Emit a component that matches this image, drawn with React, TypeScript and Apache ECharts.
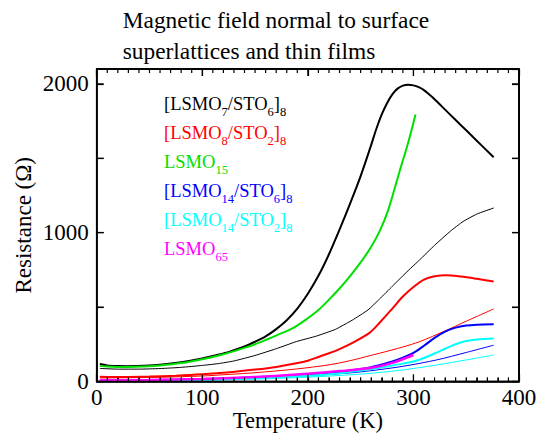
import React, { useEffect, useRef } from "react";
import * as echarts from "echarts";

// Temperature (K) / Resistance (Ohm)
const tBlackThick = [3, 10, 20, 30, 45, 60, 80, 100, 115, 126, 140, 150, 160, 170, 180, 190, 200, 210, 220, 230, 240, 250, 260, 265, 270, 275, 280, 285, 290, 295, 300, 305, 310, 315, 320, 330, 340, 350, 360, 376];
const rBlackThick = [117, 108, 104, 103, 106, 113, 130, 155, 180, 201, 235, 267, 303, 352, 412, 490, 590, 710, 855, 1020, 1195, 1380, 1590, 1700, 1795, 1870, 1930, 1968, 1988, 1995, 1990, 1978, 1958, 1928, 1897, 1827, 1757, 1688, 1618, 1507];

const tBlackThin = [3, 20, 40, 60, 80, 100, 115, 130, 150, 170, 189, 208, 226, 242, 257, 268, 280, 295, 306, 320, 335, 347, 360, 376];
const rBlackThin = [88, 83, 83, 87, 95, 108, 120, 138, 175, 220, 268, 305, 350, 412, 481, 555, 640, 745, 818, 915, 1010, 1075, 1125, 1166];

const tRedThick = [3, 25, 50, 75, 100, 126, 150, 170, 189, 200, 210, 220, 230, 245, 259, 268, 280, 290, 300, 310, 320, 331, 345, 360, 376];
const rRedThick = [32, 30, 33, 39, 48, 62, 80, 98, 122, 140, 165, 190, 218, 270, 330, 395, 490, 571, 635, 685, 707, 714, 705, 690, 672];

const tRedThin = [3, 50, 100, 126, 150, 189, 220, 240, 259, 268, 290, 306, 330, 350, 376];
const rRedThin = [24, 27, 37, 48, 59, 84, 112, 140, 174, 190, 232, 268, 340, 405, 488];

const tGreen = [3, 10, 20, 30, 45, 60, 80, 100, 120, 140, 150, 160, 172, 185, 200, 210, 218, 230, 240, 250, 260, 268, 276, 287, 295, 302];
const rGreen = [105, 100, 98, 98, 101, 108, 124, 150, 183, 226, 250, 279, 315, 355, 425, 480, 535, 625, 708, 800, 905, 1010, 1150, 1415, 1605, 1795];

const tBlueThick = [3, 50, 100, 150, 200, 230, 259, 280, 290, 300, 310, 320, 330, 340, 350, 360, 376];
const rBlueThick = [8, 10, 16, 28, 48, 66, 95, 135, 160, 192, 240, 293, 335, 362, 376, 382, 385];

const tBlueThin = [3, 50, 100, 150, 200, 240, 259, 290, 322, 350, 376];
const rBlueThin = [6, 8, 12, 21, 38, 58, 72, 102, 145, 195, 244];

const tCyanThick = [3, 50, 100, 150, 200, 230, 259, 270, 280, 290, 300, 310, 320, 330, 340, 350, 360, 376];
const rCyanThick = [5, 7, 12, 22, 38, 55, 82, 95, 107, 120, 135, 158, 188, 220, 250, 272, 283, 289];

const tCyanThin = [3, 50, 100, 150, 200, 240, 259, 290, 322, 350, 376];
const rCyanThin = [3, 5, 9, 16, 29, 45, 55, 78, 111, 145, 178];

const tMagenta = [3, 50, 100, 150, 200, 230, 259, 280, 300];
const rMagenta = [8, 10, 17, 30, 52, 70, 90, 125, 178];

// tick values of the frame (top/right mirror of the axes)
const xTickValues = Array.from({ length: 41 }, (_, i) => i * 10);
const yTickValues = [0, 500, 1000, 1500, 2000];

const titleLines = ["Magnetic field normal to surface", "superlattices and thin films"];
const xTitle = "Temperature (K)";
const yTitle = "Resistance (\u03A9)";

const legendEntries = [
  { text: "[LSMO{s|7}/STO{s|6}]{s|8}", color: "#000000" },
  { text: "[LSMO{s|8}/STO{s|2}]{s|8}", color: "#ff0000" },
  { text: "LSMO{s|15}", color: "#00e000" },
  { text: "[LSMO{s|14}/STO{s|6}]{s|8}", color: "#0000ff" },
  { text: "[LSMO{s|14}/STO{s|2}]{s|8}", color: "#00ffff" },
  { text: "LSMO{s|65}", color: "#ff00ff" },
];

const FONT = "'Liberation Serif', 'Times New Roman', serif";

const zip = (t: number[], r: number[]) => t.map((v, i) => [v, r[i]]);

function line(t: number[], r: number[], color: string, width: number, smooth = 0.3) {
  return {
    type: "line",
    data: zip(t, r),
    showSymbol: false,
    smooth,
    lineStyle: { color, width },
    itemStyle: { color },
    silent: true,
  };
}

const mkLine = () => ({ show: true, onZero: false, lineStyle: { color: "#000", width: 1.5 } });
const mkTick = () => ({ show: true, inside: true, length: 7, lineStyle: { color: "#000", width: 1.2 } });
const mkMinor = () => ({ show: true, splitNumber: 10, length: 4, lineStyle: { color: "#000", width: 1 } });

export default function App() {
  const ref = useRef<HTMLDivElement>(null);
  useEffect(() => {
    if (!ref.current) return;
    const chart = echarts.init(ref.current, undefined, { renderer: "svg" });
    const textGraphics: any[] = [
      {
        id: "title0",
        type: "text",
        x: 122.7,
        y: 19.5,
        silent: true,
        style: { text: titleLines[0], fill: "#000", fontFamily: FONT, fontSize: 23.4, verticalAlign: "middle" },
      },
      {
        id: "title1",
        type: "text",
        x: 122.7,
        y: 50.5,
        silent: true,
        style: { text: titleLines[1], fill: "#000", fontFamily: FONT, fontSize: 23.4, verticalAlign: "middle" },
      },
      ...legendEntries.map((e, i) => ({
        id: "legend" + i,
        type: "text",
        x: 164,
        y: 104 + i * 29,
        silent: true,
        style: {
          text: e.text,
          fill: e.color,
          fontFamily: FONT,
          fontSize: 18.5,
          verticalAlign: "middle",
          align: "left",
          rich: {
            s: { fontSize: 12.5, fontFamily: FONT, lineHeight: 12.5, padding: [16, 0, 0, 0] },
          },
        },
      })),
    ];
    chart.setOption({
      animation: false,
      grid: {
        left: 96.7,
        top: 69,
        right: 19,
        bottom: 52.5,
        outerBoundsMode: "none",
        show: true,
        borderColor: "#000",
        borderWidth: 1.5,
      },
      xAxis: [
        {
          type: "value",
          min: 0,
          max: 400,
          interval: 100,
          position: "bottom",
          axisLine: mkLine(),
          axisTick: mkTick(),
          minorTick: mkMinor(),
          splitLine: { show: false },
          axisLabel: { color: "#000", fontFamily: FONT, fontSize: 23, margin: 4 },
          name: xTitle,
          nameLocation: "middle",
          nameGap: 27,
          nameMoveOverlap: false,
          nameTextStyle: { color: "#000", fontFamily: FONT, fontSize: 22.5 },
        },
        {
          type: "value",
          min: 0,
          max: 400,
          interval: 100,
          position: "top",
          axisLine: mkLine(),
          axisTick: mkTick(),
          splitLine: { show: false },
          axisLabel: { show: false },
        },
      ],
      yAxis: [
        {
          type: "value",
          min: 0,
          max: 2100,
          interval: 500,
          position: "left",
          axisLine: mkLine(),
          axisTick: mkTick(),
          splitLine: { show: false },
          axisLabel: {
            color: "#000",
            fontFamily: FONT,
            fontSize: 23,
            margin: 8,
            showMaxLabel: false,
            formatter: (v: number) => (v % 1000 === 0 ? String(v) : ""),
          },
          name: yTitle,
          nameLocation: "middle",
          nameGap: 62,
          nameMoveOverlap: false,
          nameTextStyle: { color: "#000", fontFamily: FONT, fontSize: 23 },
        },
        {
          type: "value",
          min: 0,
          max: 2100,
          interval: 500,
          position: "right",
          axisLine: mkLine(),
          axisTick: mkTick(),
          splitLine: { show: false },
          axisLabel: { show: false },
        },
      ],
      graphic: textGraphics,
      series: [
        line(tBlackThick, rBlackThick, "#000000", 2),
        line(tBlackThin, rBlackThin, "#000000", 1, 0.15),
        line(tRedThick, rRedThick, "#ff0000", 2),
        line(tRedThin, rRedThin, "#ff0000", 1),
        line(tGreen, rGreen, "#00e000", 2),
        line(tBlueThick, rBlueThick, "#0000ff", 2),
        line(tBlueThin, rBlueThin, "#0000ff", 1),
        line(tCyanThick, rCyanThick, "#00ffff", 2),
        line(tCyanThin, rCyanThin, "#00ffff", 1),
        line(tMagenta, rMagenta, "#ff00ff", 2.5),
        { type: "line", xAxisIndex: 1, yAxisIndex: 1, data: [], silent: true },
      ],
    });

    // Frame with mirrored ticks, positioned through the chart's own scales
    try {
      const toPx = (v: number[]) => chart.convertToPixel({ gridIndex: 0 }, v) as number[];
      const bl = toPx([0, 0]);
      const tr = toPx([400, 2100]);
      if (bl && tr && isFinite(bl[0]) && isFinite(tr[0])) {
        const stroke = { stroke: "#000", lineWidth: 1.2 };
        const frame: any[] = [
          {
            id: "frame",
            type: "rect",
            silent: true,
            z: 5,
            shape: { x: bl[0], y: tr[1], width: tr[0] - bl[0], height: bl[1] - tr[1] },
            style: { fill: "none", stroke: "#000", lineWidth: 1.5 },
          },
        ];
        xTickValues.forEach((v, i) => {
          const len = v % 100 === 0 ? 7 : 4;
          const px = toPx([v, 0])[0];
          frame.push({ id: "tt" + i, type: "line", silent: true, z: 5, shape: { x1: px, y1: tr[1], x2: px, y2: tr[1] + len }, style: stroke });
          frame.push({ id: "tb" + i, type: "line", silent: true, z: 5, shape: { x1: px, y1: bl[1], x2: px, y2: bl[1] - len }, style: stroke });
        });
        yTickValues.forEach((v, i) => {
          const py = toPx([0, v])[1];
          frame.push({ id: "tl" + i, type: "line", silent: true, z: 5, shape: { x1: bl[0], y1: py, x2: bl[0] + 7, y2: py }, style: stroke });
          frame.push({ id: "tr" + i, type: "line", silent: true, z: 5, shape: { x1: tr[0], y1: py, x2: tr[0] - 7, y2: py }, style: stroke });
        });
        chart.setOption({ graphic: [...textGraphics, ...frame] });
      }
    } catch (e) {
      // keep the chart as drawn
    }
    return () => chart.dispose();
  }, []);
  return (
    <div
      ref={ref}
      style={{ position: "fixed", left: 0, top: 0, width: 538, height: 434, background: "#fff" }}
    />
  );
}
